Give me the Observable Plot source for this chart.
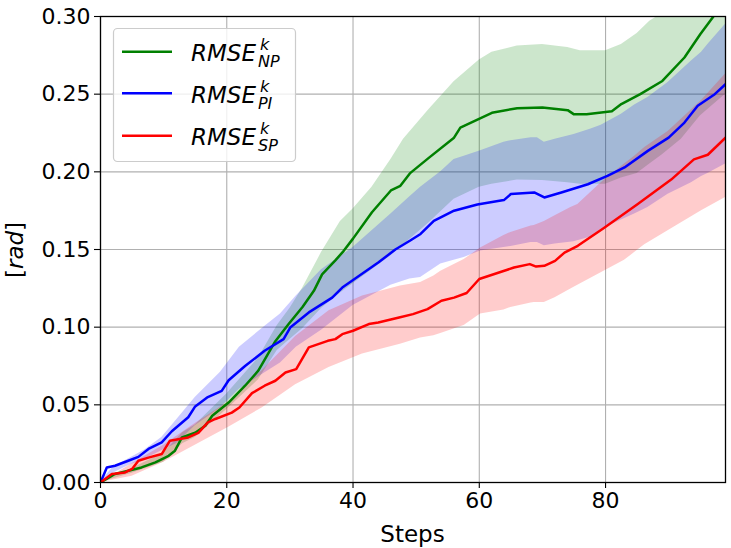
<!DOCTYPE html>
<html>
<head>
<meta charset="utf-8">
<script src="https://cdn.jsdelivr.net/npm/d3@7"></script>
<script src="https://cdn.jsdelivr.net/npm/@observablehq/plot@0.6"></script>
<style>
  html, body { margin: 0; padding: 0; background: #fff; }
  svg { display: block; }
</style>
</head>
<body>
<script>
// ---- Mean lines (knots) ----
const npX = [0,2.3,4.4,6.5,8.7,10.8,11.8,12.9,15,16.6,17.7,20.3,22.9,25,27.7,29.8,32,33.8,35.1,37.2,38.5,40,43,46,47.5,49,52,56,57,62,66,70,74,75,77,81,82.5,85.5,89,92.5,95,97,99];
const npY = [0,0.0055,0.0076,0.0097,0.013,0.0172,0.0205,0.029,0.032,0.0365,0.043,0.0515,0.0623,0.072,0.091,0.102,0.113,0.1234,0.134,0.143,0.149,0.157,0.174,0.188,0.191,0.199,0.209,0.222,0.2285,0.238,0.241,0.2414,0.2397,0.237,0.237,0.239,0.2436,0.25,0.2585,0.2736,0.2886,0.2995,0.313];

const piX = [0,1,2.3,4.4,6,7.6,9.7,11.3,13.9,15,17,19.2,20.3,22.9,26,29,30.1,33,36.7,38.3,44,46.7,49,50.7,52.8,56,59.7,63.9,65,68.7,70.3,73,77.2,80.3,83,86.7,90,92.5,94.6,97.3,99];
const piY = [0,0.0097,0.0108,0.014,0.0165,0.0216,0.0258,0.033,0.042,0.049,0.055,0.059,0.0658,0.075,0.0848,0.0923,0.1,0.1095,0.119,0.1255,0.1416,0.150,0.1556,0.160,0.1685,0.175,0.179,0.1818,0.1857,0.1867,0.1835,0.1867,0.192,0.1974,0.2028,0.2135,0.222,0.2317,0.2425,0.25,0.2564];

const spX = [0,1.8,3.9,5,6,7.6,9.7,11,13.9,15.5,17,18.2,20.8,22,24,26,27.7,29.3,31,33,36,37.2,38.3,40,42.5,44,47.3,49.5,51.8,54,56,58,60,63,65.5,68,69,70.3,72,73.5,75.6,79.8,85,90.4,94,96.2,99];
const spY = [0,0.0055,0.0065,0.0087,0.014,0.016,0.0183,0.0269,0.029,0.032,0.0387,0.0409,0.045,0.0483,0.0575,0.0623,0.0655,0.0708,0.073,0.087,0.0912,0.0923,0.0955,0.0977,0.102,0.103,0.1062,0.1084,0.1116,0.117,0.119,0.122,0.131,0.135,0.1384,0.1406,0.139,0.1395,0.1427,0.148,0.1524,0.164,0.179,0.195,0.208,0.211,0.222];

// ---- Shaded bands (lower / upper edges) ----
const npBandX = [0,5,10,13,15,20,25,28,30,32,35,38,40,43,46,48,52,56,60,62,66,70,74,76,80,82.5,85,87,89,92,95,99];
const npLo    = [0,0.006,0.013,0.025,0.029,0.047,0.066,0.085,0.092,0.099,0.112,0.122,0.128,0.137,0.146,0.153,0.167,0.1824,0.190,0.192,0.1947,0.1945,0.193,0.192,0.192,0.196,0.199,0.205,0.211,0.221,0.236,0.25];
const npHi    = [0,0.009,0.019,0.032,0.037,0.057,0.080,0.101,0.112,0.125,0.148,0.168,0.176,0.19,0.208,0.221,0.240,0.258,0.272,0.277,0.281,0.282,0.280,0.278,0.278,0.282,0.289,0.297,0.302,0.315,0.33,0.345];

const piBandX = [0,2,4.4,7,9.7,12,15,19,22,25.8,28.5,31,35,40,46,49,50.7,53.9,56,57.6,60.2,63.9,65,68.2,69.2,70.3,72,75,77.7,79.3,82.5,84.6,86.7,89.9,93.6,95.2,96.2,99];
const piLo    = [0,0.006,0.0108,0.015,0.0205,0.025,0.0365,0.048,0.060,0.070,0.077,0.087,0.098,0.114,0.127,0.131,0.132,0.1406,0.143,0.1449,0.149,0.1513,0.152,0.1545,0.1545,0.1524,0.1535,0.155,0.158,0.163,0.169,0.1728,0.177,0.1856,0.193,0.197,0.199,0.205];
const piHi    = [0,0.01,0.0151,0.021,0.029,0.04,0.0548,0.071,0.087,0.0998,0.1084,0.12,0.137,0.1513,0.1728,0.184,0.19,0.2,0.208,0.21,0.2135,0.219,0.22,0.222,0.222,0.219,0.221,0.224,0.2275,0.23,0.237,0.243,0.2478,0.2575,0.2714,0.277,0.282,0.295];

const spBandX = [0,5,10,15,20.3,25.6,30.9,36.2,41.5,47.5,50.7,52.8,53.9,57.6,60.2,63.9,65,68.2,68.7,70.3,72,74.5,75.6,79.3,83,84.6,86.2,89.9,95.2,99];
const spLo    = [0,0.004,0.013,0.024,0.0355,0.048,0.063,0.074,0.0827,0.089,0.093,0.0945,0.096,0.101,0.1084,0.111,0.1127,0.1155,0.1159,0.1159,0.119,0.1245,0.127,0.135,0.143,0.148,0.153,0.162,0.175,0.1835];
const spHi    = [0,0.012,0.024,0.038,0.052,0.072,0.094,0.1105,0.120,0.1265,0.1288,0.133,0.136,0.1435,0.151,0.159,0.161,0.1652,0.1655,0.168,0.1717,0.177,0.179,0.193,0.205,0.21,0.2157,0.226,0.246,0.263];

const xTicks = [0,20,40,60,80];
const yTicks = [0,0.05,0.10,0.15,0.20,0.25,0.30];
const seriesColors = ["#008000","#0000ff","#ff0000"];
const seriesNames = [["RMSE","k","NP"],["RMSE","k","PI"],["RMSE","k","SP"]];

const lineRows = (xs, ys) => xs.map((x, i) => ({x, y: ys[i]}));
const bandRows = (xs, lo, hi) => xs.map((x, i) => ({x, lo: lo[i], hi: hi[i]}));

const bands = [bandRows(npBandX, npLo, npHi), bandRows(piBandX, piLo, piHi), bandRows(spBandX, spLo, spHi)];
const lines = [lineRows(npX, npY), lineRows(piX, piY), lineRows(spX, spY)];

const svg = Plot.plot({
  width: 731,
  height: 548,
  marginLeft: 100,
  marginRight: 6,
  marginTop: 16,
  marginBottom: 66,
  style: {fontFamily: "DejaVu Sans, sans-serif", fontSize: "22px", color: "#000", background: "#fff"},
  x: {domain: [0, 99]},
  y: {domain: [0, 0.30]},
  marks: [
    Plot.gridX(xTicks, {stroke: "#b0b0b0", strokeOpacity: 1, strokeWidth: 1.1}),
    Plot.gridY(yTicks, {stroke: "#b0b0b0", strokeOpacity: 1, strokeWidth: 1.1}),
    ...bands.map((b, i) => Plot.areaY(b, {x: "x", y1: "lo", y2: "hi", fill: seriesColors[i], fillOpacity: 0.2, clip: true})),
    ...lines.map((l, i) => Plot.line(l, {x: "x", y: "y", stroke: seriesColors[i], strokeWidth: 2.5, strokeLinejoin: "round", clip: true})),
    Plot.axisX({ticks: xTicks, tickSize: 6, tickPadding: 4, fontSize: 22, label: null, stroke: "#000", strokeWidth: 1.1}),
    Plot.axisY({ticks: yTicks, tickSize: 6, tickPadding: 4, fontSize: 22, label: null, tickFormat: d => d.toFixed(2), stroke: "#000", strokeWidth: 1.1}),
    Plot.frame({stroke: "#000", strokeWidth: 1.3})
  ]
});
document.body.append(svg);

const s = d3.select(svg);
// x axis title
s.append("text").attr("x", 412.5).attr("y", 542).attr("text-anchor", "middle")
  .attr("font-size", 23).attr("fill", "#000").text("Steps");
// y axis title
const yl = s.append("text").attr("transform", "translate(23,250) rotate(-90)")
  .attr("text-anchor", "middle").attr("font-size", 23).attr("fill", "#000");
yl.append("tspan").text("[");
yl.append("tspan").attr("font-style", "italic").text("rad");
yl.append("tspan").text("]");

// legend
const lg = s.append("g").attr("text-anchor", "start");
lg.append("rect").attr("x", 113.5).attr("y", 28.5).attr("width", 182).attr("height", 133)
  .attr("rx", 4).attr("fill", "#fff").attr("fill-opacity", 0.8).attr("stroke", "#cccccc").attr("stroke-width", 1.2);
const rowY = [51.7, 93.3, 135.7];
seriesNames.forEach((n, i) => {
  const y = rowY[i];
  lg.append("line").attr("x1", 122).attr("x2", 172).attr("y1", y).attr("y2", y)
    .attr("stroke", seriesColors[i]).attr("stroke-width", 2.5);
  const t = lg.append("text").attr("x", 191).attr("y", y + 9.5).attr("font-size", 23)
    .attr("text-anchor", "start").attr("font-style", "italic").attr("fill", "#000").text(n[0]);
  const w = t.node().getComputedTextLength();
  lg.append("text").attr("x", 191 + w + 4).attr("y", y - 1.7).attr("font-size", 16)
    .attr("text-anchor", "start").attr("font-style", "italic").attr("fill", "#000").text(n[1]);
  lg.append("text").attr("x", 191 + w + 2).attr("y", y + 15.5).attr("font-size", 16)
    .attr("text-anchor", "start").attr("font-style", "italic").attr("fill", "#000").text(n[2]);
});
</script>
</body>
</html>
